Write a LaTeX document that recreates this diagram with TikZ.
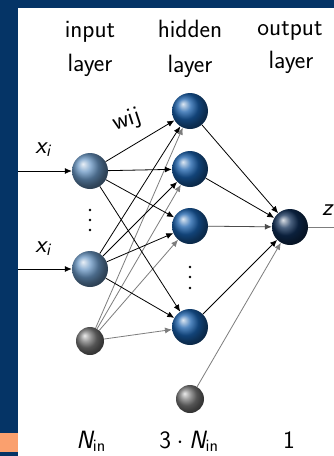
\documentclass[tikz,border=0pt]{standalone}
\usepackage{fontspec}
\usepackage{amsmath}
\usetikzlibrary{arrows.meta}
\definecolor{frameblue}{RGB}{5,52,102}
\definecolor{frameorange}{RGB}{250,160,110}
\definecolor{inball}{RGB}{105,150,195}
\definecolor{hidball}{RGB}{25,95,170}
\definecolor{outball}{RGB}{15,45,85}
\definecolor{biasball}{RGB}{120,120,120}
\definecolor{lightline}{RGB}{125,125,125}
\newcommand{\sfit}[1]{\textsf{\itshape #1}}
\begin{document}
\begin{tikzpicture}[x=1pt,y=-1pt,
  neuron/.style={circle, inner sep=0pt, minimum size=36pt},
  innode/.style={neuron, ball color=inball},
  hidnode/.style={neuron, ball color=hidball},
  outnode/.style={neuron, ball color=outball},
  biasnode/.style={circle, inner sep=0pt, minimum size=28pt, ball color=biasball},
  wire/.style={line width=0.8pt, -{Latex[length=7pt,width=6pt]}},
  blackwire/.style={wire, black},
  graywire/.style={wire, lightline},
  lbl/.style={font=\sffamily\fontsize{25}{30}\selectfont, inner sep=0pt},
  dotmark/.style={circle, fill=black, inner sep=0pt, minimum size=2.6pt}]
% frame
\fill[frameblue] (0,0) rectangle (334,456);
\fill[white] (18,8) rectangle (334,456);
\fill[frameorange] (0,433) rectangle (18,452);
\useasboundingbox (0,0) rectangle (334,456);
% headers
\node[lbl, anchor=base] (t1a) at (90,37) {input};
\node[lbl, anchor=base] (t1b) at (90,71) {layer};
\node[lbl, anchor=base] (t2a) at (190,37) {hidden};
\node[lbl, anchor=base] (t2b) at (190,72) {layer};
\node[lbl, anchor=base] (t3a) at (290,35) {output};
\node[lbl, anchor=base] (t3b) at (291,68) {layer};
% neurons
\node[innode] (i1) at (90,171) {};
\node[innode] (i2) at (90,269) {};
\node[biasnode] (ib) at (90,341) {};
\node[hidnode] (h1) at (190,111) {};
\node[hidnode] (h2) at (190,169) {};
\node[hidnode] (h3) at (190,226) {};
\node[hidnode] (h4) at (190,327) {};
\node[biasnode] (hb) at (190,399) {};
\node[outnode] (o) at (290,227) {};
% dots
\node[dotmark] (d1) at (90,210) {};
\node[dotmark] (d2) at (90,220) {};
\node[dotmark] (d3) at (90,230) {};
\node[dotmark] (e1) at (190,267) {};
\node[dotmark] (e2) at (190,277) {};
\node[dotmark] (e3) at (190,288) {};
% inputs
\coordinate (x1s) at (18,171);
\coordinate (x2s) at (18,269);
\coordinate (zend) at (334,227);
\draw[blackwire] (x1s) -- (i1);
\draw[blackwire] (x2s) -- (i2);
\node[lbl, anchor=base] (lx1) at (43,153) {$\sfit{x}_{\sfit{i}}$};
\node[lbl, anchor=base] (lx2) at (43,252) {$\sfit{x}_{\sfit{i}}$};
% input -> hidden
\foreach \h in {h1,h2,h3,h4} {
  \draw[blackwire] (i1) -- (\h);
  \draw[blackwire] (i2) -- (\h);
  \draw[graywire] (ib) -- (\h);
}
% hidden -> output
\foreach \h in {h1,h2,h4} {
  \draw[blackwire] (\h) -- (o);
}
\draw[wire, black!70] (h3) -- (o);
\draw[graywire] (hb) -- (o);
\draw[line width=0.8pt, lightline] (o) -- (zend);
% labels
\node[lbl, rotate=18] (w) at (127,121) {wij};
\node[lbl, anchor=base] (lz) at (328,215) {\sfit{z}};
\node[lbl, anchor=base] (b1) at (91,448) {$\sfit{N}_{\textsf{in}}$};
\node[lbl, anchor=base] (b2) at (189,448) {$\textsf{3}\cdot\sfit{N}_{\textsf{in}}$};
\node[lbl, anchor=base] (b3) at (289,448) {\textsf{1}};
\end{tikzpicture}
\end{document}
